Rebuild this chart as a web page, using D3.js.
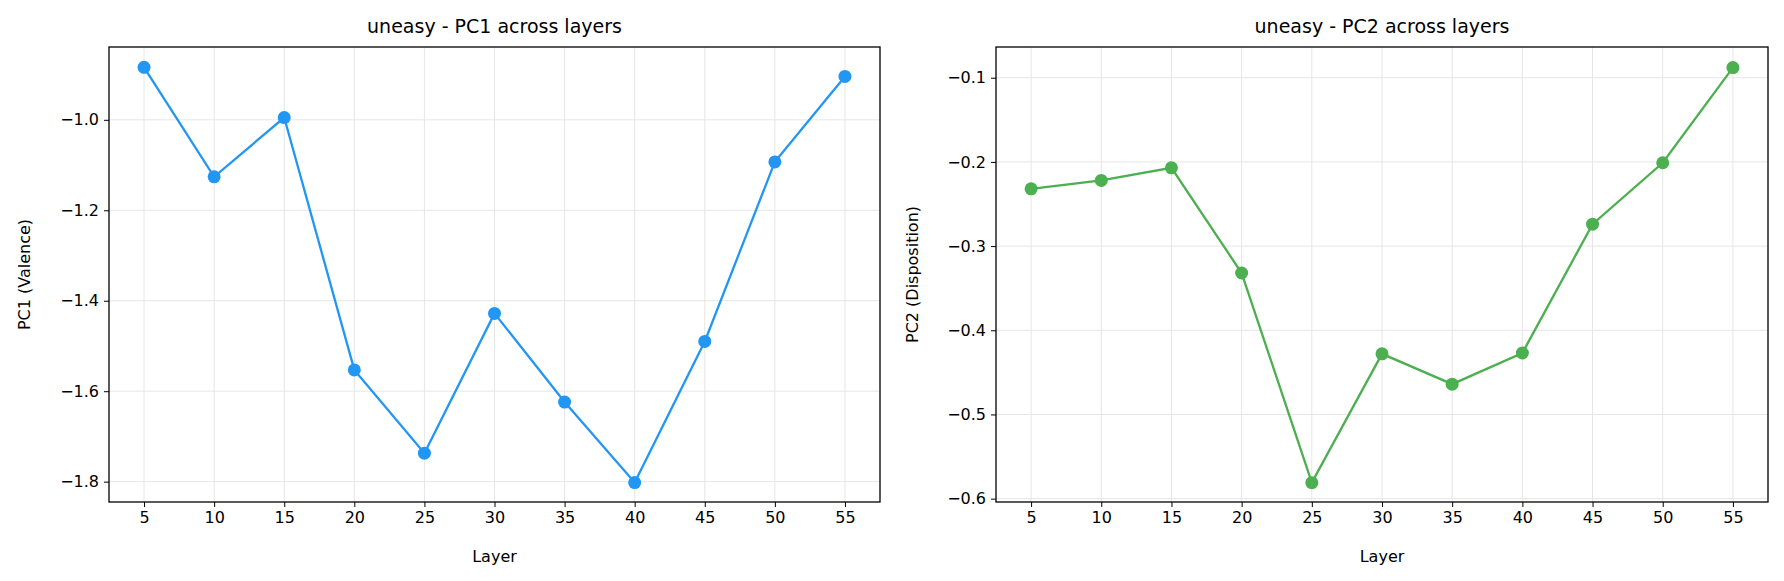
<!DOCTYPE html>
<html>
<head>
<meta charset="utf-8">
<script src="https://d3js.org/d3.v7.min.js"></script>
<style>
  body { margin: 0; background: #fff; }
  text { font-family: "DejaVu Sans", sans-serif; fill: #000; }
  .grid line { stroke: #e6e6e6; stroke-width: 1; }
</style>
</head>
<body>
<script>
var layers = [5, 10, 15, 20, 25, 30, 35, 40, 45, 50, 55];
var pc1 = [-0.884, -1.126, -0.995, -1.553, -1.737, -1.428, -1.624, -1.802, -1.490, -1.093, -0.904];
var pc2 = [-0.232, -0.222, -0.207, -0.332, -0.581, -0.428, -0.464, -0.427, -0.274, -0.201, -0.088];
var pc1Ticks = [-1.8, -1.6, -1.4, -1.2, -1.0];
var pc2Ticks = [-0.6, -0.5, -0.4, -0.3, -0.2, -0.1];

var TOP = 47, BOT = 502;
var svg = d3.select("body").append("svg").attr("width", 1784).attr("height", 581);

function panel(cfg) {
  var x = d3.scaleLinear().domain([2.5, 57.5]).range([cfg.left, cfg.right]);
  var y = d3.scaleLinear().domain(cfg.ydom).range([BOT, TOP]);
  var g = svg.append("g");

  g.append("g").attr("class", "grid").selectAll("line").data(layers).join("line")
    .attr("x1", d => x(d)).attr("x2", d => x(d)).attr("y1", TOP).attr("y2", BOT);
  g.append("g").attr("class", "grid").selectAll("line").data(cfg.ticks).join("line")
    .attr("y1", d => y(d)).attr("y2", d => y(d)).attr("x1", cfg.left).attr("x2", cfg.right);

  var xa = g.append("g").attr("transform", "translate(0," + BOT + ")")
    .call(d3.axisBottom(x).tickValues(layers).tickSize(5).tickPadding(5));
  var ya = g.append("g").attr("transform", "translate(" + cfg.left + ",0)")
    .call(d3.axisLeft(y).tickValues(cfg.ticks).tickSize(5).tickPadding(5)
      .tickFormat(d => d3.format(cfg.fmt)(d).replace("-", "\u2212")));
  [xa, ya].forEach(a => {
    a.select(".domain").remove();
    a.selectAll("text").style("font-size", "16px").style("font-family", "DejaVu Sans");
  });

  g.append("rect").attr("x", cfg.left).attr("y", TOP).attr("width", cfg.right - cfg.left)
    .attr("height", BOT - TOP).attr("fill", "none").attr("stroke", "#000").attr("stroke-width", 1.3);

  var pts = layers.map((l, i) => [l, cfg.vals[i]]);
  g.append("path").datum(pts).attr("fill", "none").attr("stroke", cfg.color).attr("stroke-width", 2.3)
    .attr("d", d3.line().x(d => x(d[0])).y(d => y(d[1])));
  g.selectAll("circle.pt").data(pts).join("circle").attr("class", "pt")
    .attr("cx", d => x(d[0])).attr("cy", d => y(d[1])).attr("r", 6.5).attr("fill", cfg.color);

  var mid = (cfg.left + cfg.right) / 2;
  g.append("text").attr("x", mid).attr("y", 33).attr("text-anchor", "middle")
    .style("font-size", "19px").text(cfg.title);
  g.append("text").attr("x", mid).attr("y", 562).attr("text-anchor", "middle")
    .style("font-size", "16px").text("Layer");
  g.append("text").attr("transform", "translate(" + cfg.ylx + "," + (TOP + BOT) / 2 + ") rotate(-90)")
    .attr("text-anchor", "middle").style("font-size", "16px").text(cfg.ylabel);
}

panel({left: 109, right: 880, ydom: [-1.845, -0.839], ticks: pc1Ticks, fmt: ".1f",
  vals: pc1, color: "#2196F3", title: "uneasy - PC1 across layers", ylabel: "PC1 (Valence)", ylx: 30});
panel({left: 996, right: 1768, ydom: [-0.604, -0.0635], ticks: pc2Ticks, fmt: ".1f",
  vals: pc2, color: "#4CAF50", title: "uneasy - PC2 across layers", ylabel: "PC2 (Disposition)", ylx: 918});
</script>
</body>
</html>
